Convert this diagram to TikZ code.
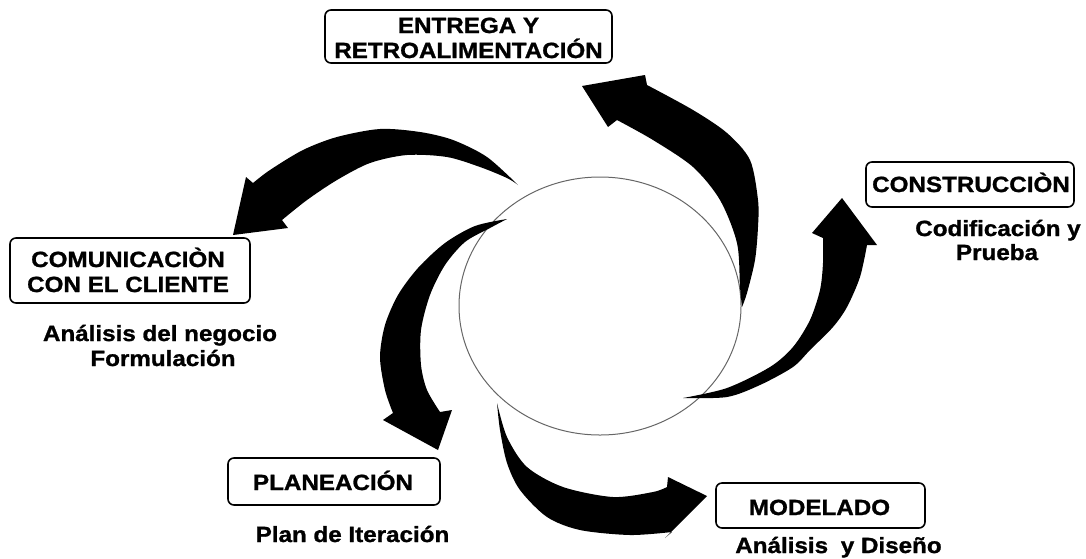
\documentclass[tikz,border=0pt]{standalone}
\usepackage{fontspec}
\newfontfamily\labfont{Liberation Sans}[FakeStretch=1.1,FakeBold=1.2]
\begin{document}
\begin{tikzpicture}[x=1pt,y=-1pt,
  box/.style={draw=black, line width=1.6pt, rounded corners=6pt, inner sep=0pt},
  lab/.style={font=\labfont\bfseries\fontsize{22}{25}\selectfont, inner sep=0pt, anchor=base},
  arr/.style={fill=black},
  ring/.style={draw=black!60, line width=1pt}]
\useasboundingbox (0,0) rectangle (1086,558);

% central ring
\draw[ring] (600,306) ellipse [x radius=141, y radius=129];

% arrow to COMUNICACION
\fill[arr] plot[smooth] coordinates {(518,185) (487,157) (453,140) (420,132) (380,129) (337,137) (303,150) (270,170) (253,183)}
  -- (246,177) -- (233,235) -- (288,228)
  -- plot[smooth] coordinates {(282,220) (307,200) (337,180) (370,163) (407,155) (447,157) (480,167) (507,178) (518,185)} -- cycle;

% arrow to ENTREGA
\fill[arr] plot[smooth] coordinates {(742,307) (747,293) (755,260) (758,227) (758,200) (750,160) (727,133) (693,110) (647,85)}
  -- (645,75) -- (582,86) -- (608,127)
  -- plot[smooth] coordinates {(617,120) (653,140) (693,167) (720,200) (737,243) (740,287) (742,307)} -- cycle;

% arrow to CONSTRUCCION
\fill[arr] plot[smooth] coordinates {(683,398) (727,397) (760,385) (793,367) (810,350) (833,327) (847,307) (860,277) (867,245)}
  -- (877,245) -- (842,198) -- (812,233)
  -- plot[smooth] coordinates {(823,238) (823,263) (820,290) (810,320) (793,347) (770,367) (727,388) (683,398)} -- cycle;

% arrow to PLANEACION
\fill[arr] plot[smooth] coordinates {(507,219) (475,226) (445,243) (418,268) (398,295) (385,325) (380,357) (385,390) (393,413)}
  -- (383,420) -- (438,450) -- (452,410)
  -- plot[smooth] coordinates {(440,412) (427,390) (421,365) (421,330) (430,295) (445,265) (465,242) (490,228) (507,219)} -- cycle;

% arrow to MODELADO
\fill[arr] plot[smooth] coordinates {(497,403) (500,430) (507,463) (520,490) (547,517) (580,530) (630,535) (672,532)}
  -- (665,538) -- (707,496) -- (668,477)
  -- plot[smooth] coordinates {(667,487) (653,492) (613,497) (563,487) (527,467) (507,437) (497,403)} -- cycle;

% ENTREGA Y RETROALIMENTACION
\node[box, minimum width=287pt, minimum height=53pt] (bE) at (468.5,36.5) {};
\node[lab] (tE1) at (468.5,33) {ENTREGA Y};
\node[lab] (tE2) at (468.5,58) {RETROALIMENTACIÓN};

% COMUNICACION
\node[box, minimum width=240pt, minimum height=65pt] (bC) at (130,270.5) {};
\node[lab] (tC1) at (128,267) {COMUNICACIÒN};
\node[lab] (tC2) at (128,292) {CON EL CLIENTE};
\node[lab] (sC1) at (160,341) {Análisis del negocio};
\node[lab] (sC2) at (163,366) {Formulación};

% CONSTRUCCION
\node[box, minimum width=208pt, minimum height=45pt] (bK) at (970,184.5) {};
\node[lab] (tK) at (971,192) {CONSTRUCCIÒN};
\node[lab] (sK1) at (998,236) {Codificación y};
\node[lab] (sK2) at (997,260) {Prueba};

% PLANEACION
\node[box, minimum width=212pt, minimum height=47pt] (bP) at (334,481.5) {};
\node[lab] (tP) at (333,490) {PLANEACIÓN};
\node[lab] (sP) at (352.5,542) {Plan de Iteración};

% MODELADO
\node[box, minimum width=209pt, minimum height=45pt] (bM) at (820.5,505.5) {};
\node[lab] (tM) at (819.5,515) {MODELADO};
\node[lab] (sM) at (838.5,553) {Análisis\hspace{6pt} y Diseño};
\end{tikzpicture}
\end{document}
